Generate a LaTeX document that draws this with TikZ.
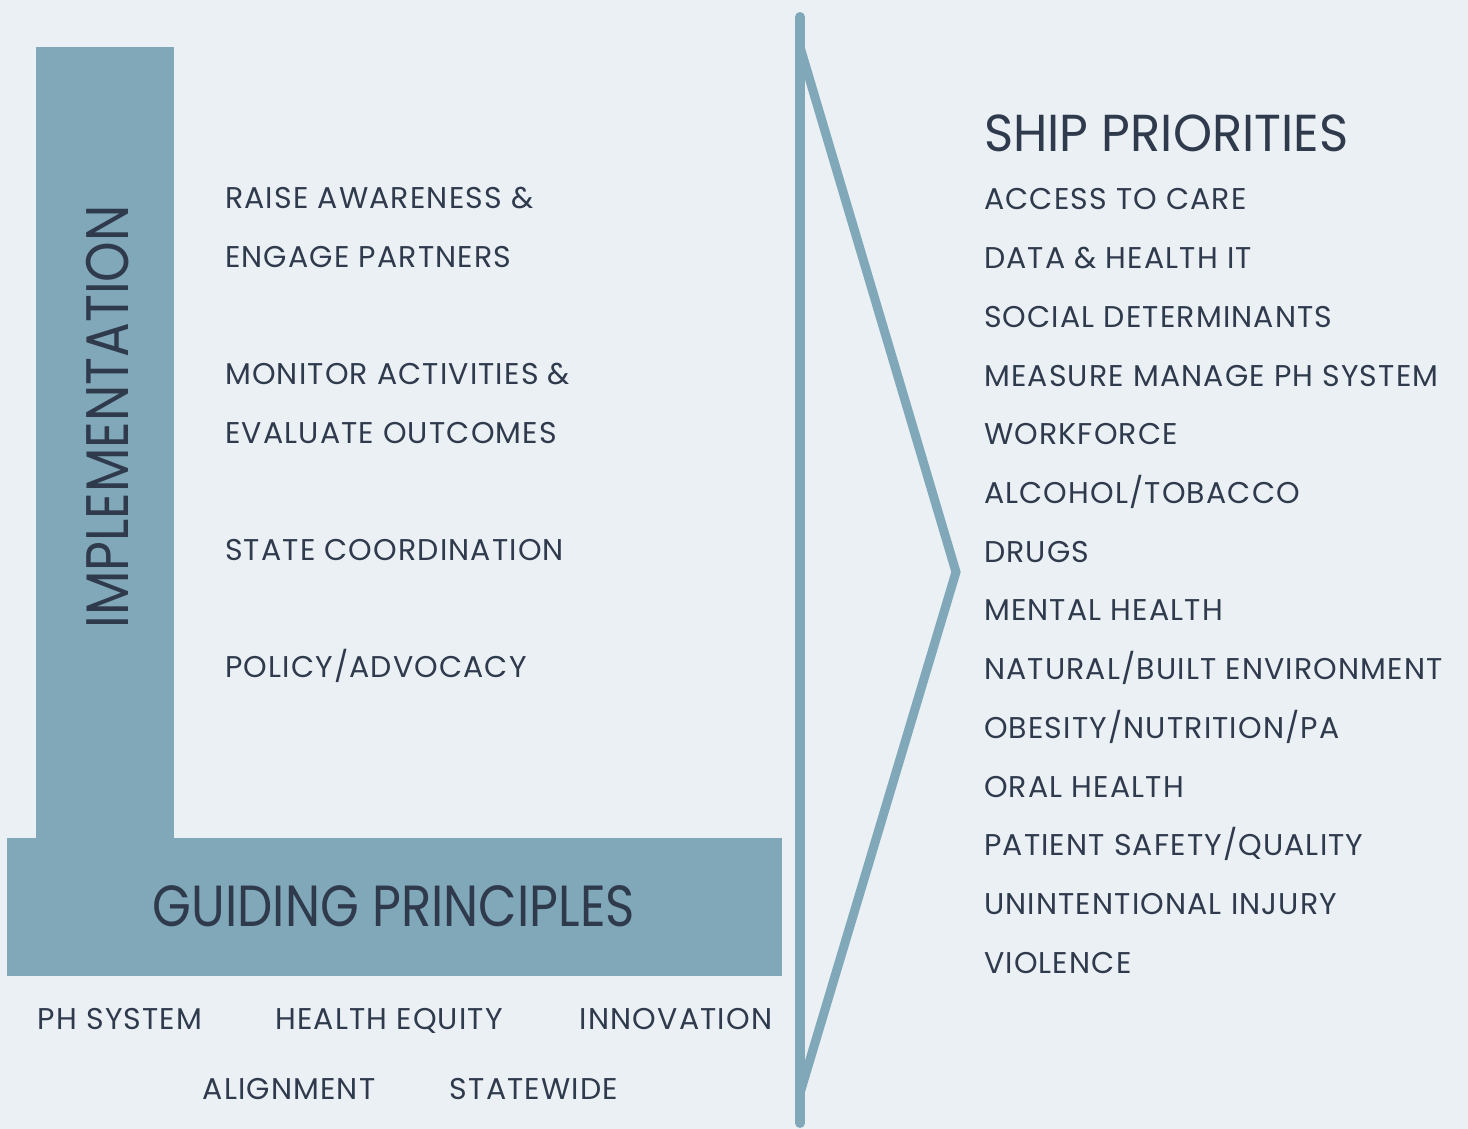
\documentclass[tikz,border=0pt]{standalone}
\usepackage{fontspec}
\setmainfont{Poppins}
\newfontfamily\itemfont[LetterSpace=3.8]{Poppins}
\newfontfamily\headfont[FakeStretch=0.86]{Poppins}
\newfontfamily\shipfont[FakeStretch=0.955]{Poppins}
\definecolor{bg}{HTML}{EAF0F4}
\definecolor{steel}{HTML}{80A8B8}
\definecolor{ink}{HTML}{2F3A4D}
\begin{document}
\begin{tikzpicture}[x=1pt,y=-1pt,
  item/.style={anchor=base west,inner sep=0pt,text=ink,font=\itemfont\fontsize{30}{30}\selectfont},
  head/.style={anchor=base,inner sep=0pt,text=ink,font=\headfont\fontsize{58}{58}\selectfont},
  bar/.style={fill=steel,draw=none}]
\fill[bg] (0,0) rectangle (1468,1129);
\useasboundingbox (0,0) rectangle (1468,1129);
% L shape
\fill[steel] (36,47) rectangle (174,840);
\fill[steel] (7,838) rectangle (782,976);
\node[head,rotate=90,font=\headfont\fontsize{60}{60}\selectfont] (impl) at (128,417) {IMPLEMENTATION};
\node[head] (guid) at (394,926) {GUIDING PRINCIPLES};
% left list
\node[item] (l1) at (225,208) {RAISE AWARENESS \&};
\node[item] (l2) at (225,267) {ENGAGE PARTNERS};
\node[item] (l3) at (225,384) {MONITOR ACTIVITIES \&};
\node[item] (l4) at (225,443) {EVALUATE OUTCOMES};
\node[item] (l5) at (225,560) {STATE COORDINATION};
\node[item] (l6) at (225,677) {POLICY/ADVOCACY};
% bottom
\node[item,anchor=base] (b1) at (120,1029) {PH SYSTEM};
\node[item,anchor=base] (b2) at (389,1029) {HEALTH EQUITY};
\node[item,anchor=base] (b3) at (676,1029) {INNOVATION};
\node[item,anchor=base] (b4) at (289,1099) {ALIGNMENT};
\node[item,anchor=base] (b5) at (534,1099) {STATEWIDE};
% divider and chevron
\coordinate (vt) at (800,17);
\coordinate (vb) at (800,1123);
\coordinate (ct) at (800,47);
\coordinate (cm) at (956,572);
\coordinate (cb) at (800,1093);
\draw[steel,line width=10pt,line cap=round] (vt) -- (vb);
\draw[steel,line width=9pt,line join=miter] (ct) -- (cm) -- (cb);
% right list
\node[head,anchor=base west,font=\shipfont\fontsize{52}{52}\selectfont] (ship) at (984,152) {SHIP PRIORITIES};
\foreach \t [count=\i from 0] in {ACCESS TO CARE,DATA \& HEALTH IT,SOCIAL DETERMINANTS,MEASURE MANAGE PH SYSTEM,WORKFORCE,ALCOHOL/TOBACCO,DRUGS,MENTAL HEALTH,NATURAL/BUILT ENVIRONMENT,OBESITY/NUTRITION/PA,ORAL HEALTH,PATIENT SAFETY/QUALITY,UNINTENTIONAL INJURY,VIOLENCE}
  \node[item] (r\i) at (984,{210+58.7*\i}) {\t};
\end{tikzpicture}
\end{document}
